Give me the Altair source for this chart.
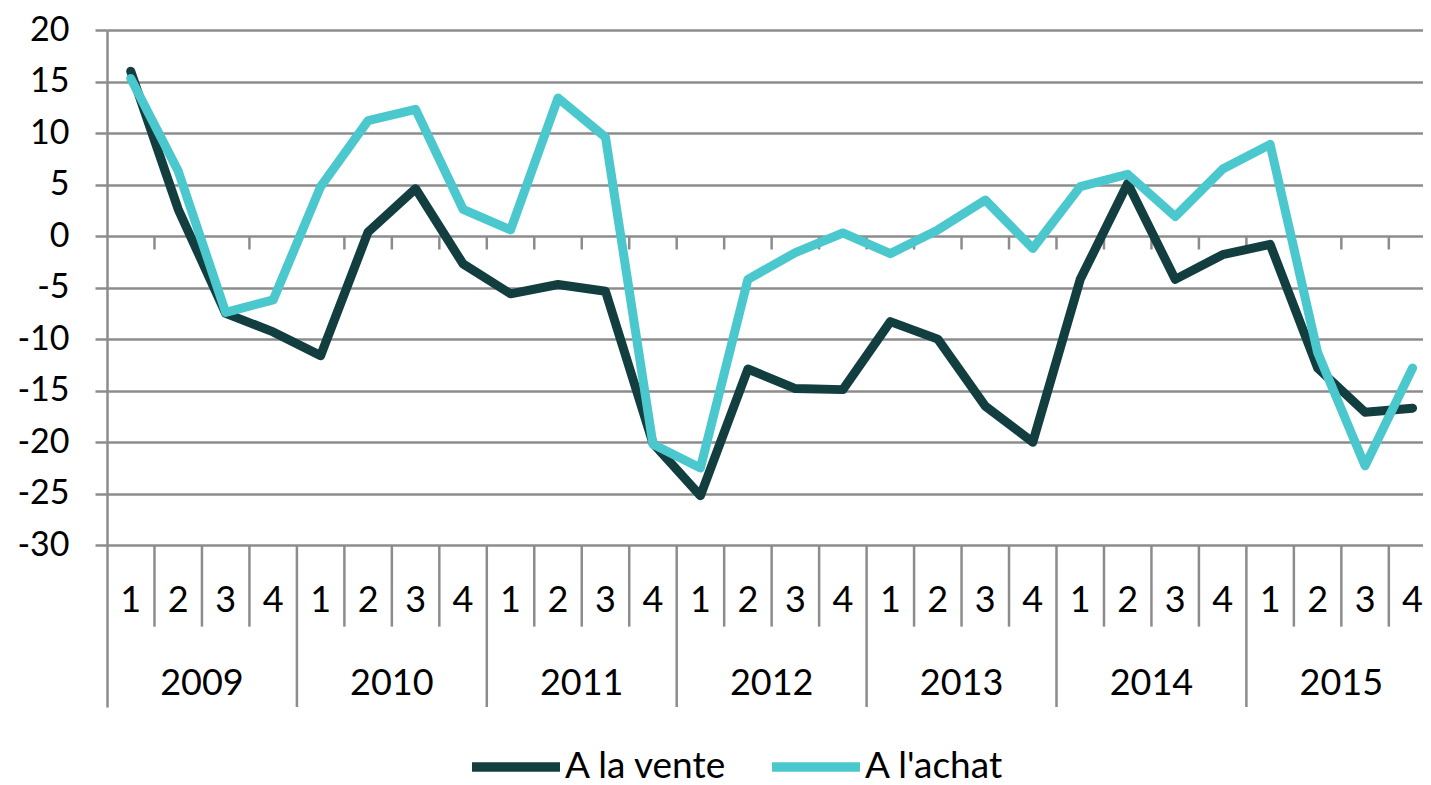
import altair as alt
import pandas as pd

# ---- data ----
years = ["2009", "2010", "2011", "2012", "2013", "2014", "2015"]
quarters = ["1", "2", "3", "4"]
vente = [16.0, 2.6, -7.5, -9.3, -11.6, 0.4, 4.6, -2.7, -5.6, -4.7, -5.35, -20.1,
         -25.2, -12.9, -14.8, -14.9, -8.3, -10.0, -16.5, -20.0, -4.2, 5.1, -4.2,
         -1.8, -0.8, -12.8, -17.1, -16.7]
achat = [15.3, 6.3, -7.4, -6.2, 4.8, 11.2, 12.3, 2.6, 0.6, 13.4, 9.6, -20.2,
         -22.5, -4.2, -1.6, 0.3, -1.7, 0.6, 3.5, -1.2, 4.8, 6.0, 1.9, 6.5, 8.9,
         -11.3, -22.3, -12.8]
y_ticks = [-30, -25, -20, -15, -10, -5, 0, 5, 10, 15, 20]
series_names = ["A la vente", "A l'achat"]
series_colors = ["#123E40", "#4BC8CD"]

FONT = "Lato"
GRID = "#8C8C8C"
n = len(vente)
X_END = n - 0.78          # the reference is cropped just past the last point
W = 1316
PX_PER_UNIT = 10.3
Y_MIN, Y_MAX = -45.7, 20
H = round((Y_MAX - Y_MIN) * PX_PER_UNIT)

# ---- tables built from the arrays ----
rows = []
for i in range(n):
    rows.append({"idx": i, "value": vente[i], "serie": series_names[0]})
for i in range(n):
    rows.append({"idx": i, "value": achat[i], "serie": series_names[1]})
df = pd.DataFrame(rows)

qlab = pd.DataFrame({"idx": list(range(n)),
                     "q": [quarters[i % 4] for i in range(n)]})
ylab = pd.DataFrame({"xc": [4 * k + 1.5 for k in range(len(years))],
                     "year": years})
bounds = [b for b in range(1, n + 1) if b - 0.5 < X_END]
zero_ticks = pd.DataFrame({"b": [b - 0.5 for b in bounds]})
q_sep = pd.DataFrame({"b": [b - 0.5 for b in bounds if b % 4 != 0]})
y_sep = pd.DataFrame({"b": [b - 0.5 for b in bounds if b % 4 == 0]})

xs = alt.Scale(domain=[-0.5, X_END], nice=False, zero=False)
ys = alt.Scale(domain=[Y_MIN, Y_MAX], nice=False, zero=False)

y_axis = alt.Axis(values=y_ticks, grid=True, gridColor=GRID, gridWidth=2.5,
                  tickSize=12, tickColor=GRID, tickWidth=2.5,
                  domainColor=GRID, domainWidth=2.5,
                  labelExpr="'' + datum.value",
                  labelFont=FONT, labelFontSize=34, labelColor="#000000",
                  labelPadding=26, title=None)

base_x = alt.X("idx:Q", scale=xs, axis=None)

color = alt.Color("serie:N",
                  scale=alt.Scale(domain=series_names, range=series_colors),
                  legend=alt.Legend(orient="none", direction="horizontal",
                                    legendX=360, legendY=688, title=None,
                                    padding=0, labelLimit=400,
                                    symbolType="stroke", symbolSize=7744,
                                    symbolStrokeWidth=9.5, labelFont=FONT,
                                    labelFontSize=37, labelColor="#000000",
                                    labelOffset=0, columnPadding=25))

grid_layer = alt.Chart(zero_ticks).mark_rule(color=GRID, strokeWidth=2.5).encode(
    x=alt.X("b:Q", scale=xs, axis=None),
    y=alt.Y("y0:Q", scale=ys, axis=y_axis),
    y2="y1:Q",
).transform_calculate(y0="0", y1="-1.3")

qsep_layer = alt.Chart(q_sep).mark_rule(color=GRID, strokeWidth=2.5).encode(
    x=alt.X("b:Q", scale=xs, axis=None),
    y=alt.Y("y0:Q", scale=ys),
    y2="y1:Q",
).transform_calculate(y0="-30", y1="-37.9")

ysep_layer = alt.Chart(y_sep).mark_rule(color=GRID, strokeWidth=2.5).encode(
    x=alt.X("b:Q", scale=xs, axis=None),
    y=alt.Y("y0:Q", scale=ys),
    y2="y1:Q",
).transform_calculate(y0="-30", y1=str(Y_MIN))

qtext = alt.Chart(qlab).mark_text(font=FONT, fontSize=36, color="#000000",
                                   baseline="middle").encode(
    x=alt.X("idx:Q", scale=xs, axis=None),
    y=alt.Y("yy:Q", scale=ys),
    text="q:N",
).transform_calculate(yy="-35.4")

ytext = alt.Chart(ylab).mark_text(font=FONT, fontSize=36, color="#000000",
                                   baseline="middle").encode(
    x=alt.X("xc:Q", scale=xs, axis=None),
    y=alt.Y("yy:Q", scale=ys),
    text="year:N",
).transform_calculate(yy="-43.5")

line_v = alt.Chart(df).transform_filter(
    alt.datum.serie == series_names[0]
).mark_line(strokeWidth=9, strokeCap="round", strokeJoin="round").encode(
    x=base_x, y=alt.Y("value:Q", scale=ys), color=color)

line_a = alt.Chart(df).transform_filter(
    alt.datum.serie == series_names[1]
).mark_line(strokeWidth=9, strokeCap="round", strokeJoin="round").encode(
    x=base_x, y=alt.Y("value:Q", scale=ys), color=color)

chart = alt.layer(grid_layer, qsep_layer, ysep_layer, qtext, ytext,
                  line_v, line_a).properties(
    width=W, height=H,
    autosize=alt.AutoSizeParams(type="none"),
    padding={"left": 99, "top": 22, "right": 0, "bottom": 78},
    background="white",
).configure_view(stroke=None)

chart.save("out.html", embed_options={"renderer": "svg", "actions": False})
